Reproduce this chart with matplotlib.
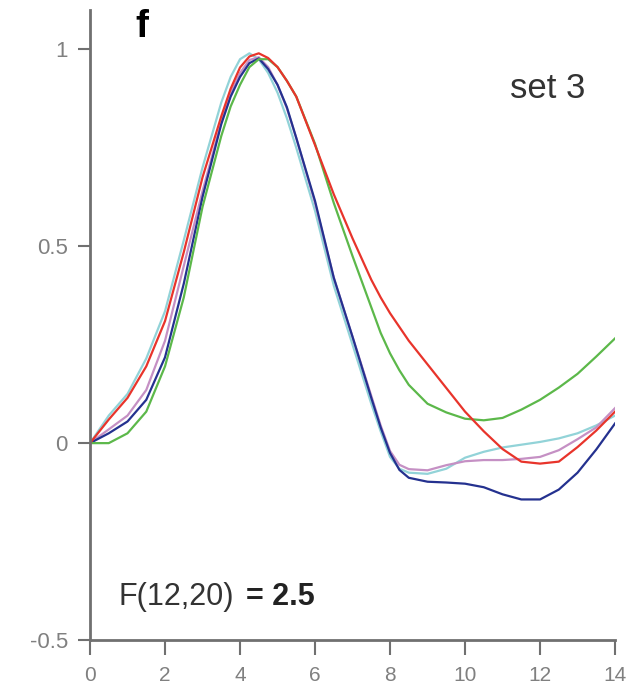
import numpy as np
import matplotlib
matplotlib.use("Agg")
import matplotlib.pyplot as plt

plt.rcParams['font.family'] = ['Liberation Sans', 'DejaVu Sans']

# time axis shared by all traces (denser around the peak and the dip)
t = [0, 0.5, 1, 1.5, 2, 2.5, 3, 3.5, 3.75, 4, 4.25, 4.5, 4.75, 5, 5.25, 5.5,
     6, 6.5, 7, 7.5, 7.75, 8, 8.25, 8.5, 9, 9.5, 10, 10.5, 11, 11.5, 12,
     12.5, 13, 13.5, 14]

cyan = [0, 0.07, 0.125, 0.215, 0.335, 0.515, 0.70, 0.865, 0.93, 0.975, 0.99,
        0.975, 0.94, 0.89, 0.825, 0.75, 0.59, 0.40, 0.25, 0.10, 0.03, -0.035,
        -0.065, -0.075, -0.078, -0.065, -0.037, -0.022, -0.011, -0.004, 0.003,
        0.012, 0.025, 0.045, 0.07]
purple = [0, 0.035, 0.07, 0.135, 0.26, 0.45, 0.64, 0.815, 0.89, 0.94, 0.973,
          0.98, 0.955, 0.91, 0.85, 0.775, 0.61, 0.42, 0.27, 0.12, 0.045, -0.02,
          -0.055, -0.066, -0.069, -0.056, -0.046, -0.043, -0.043, -0.04, -0.035,
          -0.018, 0.01, 0.04, 0.089]
blue = [0, 0.025, 0.055, 0.11, 0.218, 0.405, 0.625, 0.81, 0.88, 0.93, 0.965,
        0.977, 0.95, 0.91, 0.853, 0.775, 0.615, 0.42, 0.27, 0.115, 0.04, -0.025,
        -0.068, -0.088, -0.098, -0.1, -0.103, -0.112, -0.13, -0.143, -0.143,
        -0.118, -0.075, -0.016, 0.05]
green = [0, 0.0, 0.025, 0.08, 0.195, 0.37, 0.60, 0.78, 0.855, 0.91, 0.955,
         0.975, 0.975, 0.955, 0.92, 0.88, 0.76, 0.61, 0.475, 0.345, 0.28, 0.228,
         0.185, 0.148, 0.10, 0.078, 0.062, 0.058, 0.064, 0.085, 0.11, 0.141,
         0.176, 0.22, 0.266]
red = [0, 0.06, 0.115, 0.195, 0.31, 0.485, 0.675, 0.83, 0.90, 0.954, 0.982,
       0.99, 0.978, 0.955, 0.92, 0.88, 0.757, 0.632, 0.52, 0.415, 0.37, 0.33,
       0.295, 0.26, 0.20, 0.14, 0.08, 0.03, -0.015, -0.047, -0.052, -0.047,
       -0.01, 0.032, 0.08]

traces = [(cyan, '#92d3d8'), (purple, '#c590c4'), (blue, '#24318f'),
          (green, '#5cb84a'), (red, '#e8342b')]

xticks = [0, 2, 4, 6, 8, 10, 12, 14]
yticks = [-0.5, 0, 0.5, 1]
ylabels = ['-0.5', '0', '0.5', '1']

fig = plt.figure(figsize=(6.26, 6.89), dpi=100)
ax = fig.add_axes([0.1438, 0.0711, 0.8387, 0.9144])

for vals, col in traces:
    ax.plot(t, vals, color=col, lw=1.6, solid_joinstyle='round')

ax.set_xlim(0, 14)
ax.set_ylim(-0.5, 1.1)
ax.set_xticks(xticks)
ax.set_yticks(yticks)
ax.set_yticklabels(ylabels)

for s in ['top', 'right']:
    ax.spines[s].set_visible(False)
for s in ['left', 'bottom']:
    ax.spines[s].set_color('#707070')
    ax.spines[s].set_linewidth(2)

ax.tick_params(axis='y', length=9, width=1.5, color='#707070', pad=7,
               labelsize=16, labelcolor='#808080')
ax.tick_params(axis='x', length=11, width=1.5, color='#707070', pad=8,
               labelsize=15, labelcolor='#808080')

ax.text(1.2, 1.058, 'f', fontsize=28, fontweight='bold', ha='left', va='center')
ax.text(13.2, 0.90, 'set 3', fontsize=25, color='#333333', ha='right', va='center')
ax.text(0.75, -0.41, 'F(12,20)', fontsize=22, color='#333333', ha='left', va='baseline')
ax.text(4.15, -0.41, '= 2.5', fontsize=22, fontweight='bold', color='#222222',
        ha='left', va='baseline')

fig.savefig('out.png', dpi=100)
